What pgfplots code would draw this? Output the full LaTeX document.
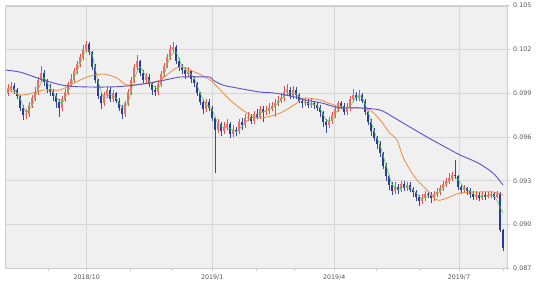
\documentclass[border=0pt]{standalone}
\usepackage{pgfplots}
\pgfplotsset{compat=1.18}
\usepackage{pgfplotstable}
\usepackage{fontspec}
\setmainfont{DejaVu Sans}
\definecolor{bgc}{HTML}{F0F0F0}
\definecolor{gridc}{HTML}{D6D6D6}
\definecolor{framec}{HTML}{CCCCCC}
\definecolor{labc}{HTML}{555555}
\definecolor{upbody}{HTML}{F06C6C}
\definecolor{upwick}{HTML}{E05050}
\definecolor{dnbody}{HTML}{2C3B93}
\definecolor{dnwick}{HTML}{3A4896}
\definecolor{mags}{HTML}{55CC55}
\definecolor{mamid}{HTML}{EE8A3C}
\definecolor{malong}{HTML}{5E50C6}

\pgfplotstableread{
x o h l c
8 0.09900 0.09960 0.09880 0.09930
11 0.09930 0.09980 0.09910 0.09950
14 0.09950 0.09970 0.09895 0.09920
17 0.09920 0.09935 0.09860 0.09880
20 0.09880 0.09890 0.09780 0.09800
23 0.09800 0.09820 0.09715 0.09750
26 0.09750 0.09790 0.09720 0.09760
29 0.09760 0.09840 0.09740 0.09820
32 0.09820 0.09890 0.09800 0.09870
35 0.09870 0.09940 0.09850 0.09910
38 0.09910 0.10010 0.09890 0.09990
41 0.09990 0.10090 0.09970 0.10040
44 0.10040 0.10060 0.09950 0.09980
47 0.09980 0.10000 0.09900 0.09930
50 0.09930 0.09960 0.09880 0.09910
53 0.09910 0.09930 0.09850 0.09880
56 0.09880 0.09900 0.09800 0.09840
59 0.09840 0.09860 0.09740 0.09800
62 0.09800 0.09880 0.09780 0.09860
65 0.09860 0.09930 0.09840 0.09910
68 0.09910 0.09980 0.09890 0.09960
71 0.09960 0.10030 0.09940 0.10000
74 0.10000 0.10070 0.09980 0.10050
77 0.10050 0.10120 0.10030 0.10100
80 0.10100 0.10170 0.10080 0.10150
83 0.10150 0.10230 0.10130 0.10200
86 0.10200 0.10260 0.10180 0.10240
89 0.10240 0.10250 0.10160 0.10180
92 0.10180 0.10190 0.10060 0.10080
95 0.10080 0.10100 0.09970 0.09990
98 0.09990 0.10000 0.09860 0.09880
101 0.09880 0.09900 0.09790 0.09830
104 0.09830 0.09910 0.09810 0.09890
107 0.09890 0.09950 0.09870 0.09920
110 0.09920 0.09940 0.09840 0.09860
113 0.09860 0.09920 0.09840 0.09900
116 0.09900 0.09910 0.09830 0.09850
119 0.09850 0.09870 0.09780 0.09800
122 0.09800 0.09820 0.09720 0.09760
125 0.09760 0.09850 0.09740 0.09830
128 0.09830 0.09930 0.09810 0.09910
131 0.09910 0.10010 0.09890 0.09990
134 0.09990 0.10100 0.09970 0.10080
137 0.10080 0.10160 0.10060 0.10120
140 0.10120 0.10130 0.10020 0.10040
143 0.10040 0.10060 0.09970 0.09990
146 0.09990 0.10040 0.09970 0.10010
149 0.10010 0.10030 0.09940 0.09960
152 0.09960 0.09980 0.09890 0.09920
155 0.09920 0.09950 0.09880 0.09910
158 0.09910 0.09980 0.09890 0.09960
161 0.09960 0.10050 0.09940 0.10030
164 0.10030 0.10110 0.10010 0.10090
167 0.10090 0.10170 0.10070 0.10150
170 0.10150 0.10230 0.10130 0.10200
173 0.10200 0.10250 0.10180 0.10220
176 0.10220 0.10230 0.10100 0.10120
179 0.10120 0.10140 0.10050 0.10080
182 0.10080 0.10100 0.10030 0.10060
185 0.10060 0.10080 0.10000 0.10030
188 0.10030 0.10080 0.10010 0.10050
191 0.10050 0.10060 0.09970 0.10000
194 0.10000 0.10020 0.09940 0.09970
197 0.09970 0.09980 0.09880 0.09900
200 0.09900 0.09910 0.09820 0.09840
203 0.09840 0.09860 0.09760 0.09790
206 0.09790 0.09860 0.09770 0.09840
209 0.09840 0.09860 0.09780 0.09800
212 0.09800 0.09810 0.09710 0.09730
215 0.09730 0.09740 0.09350 0.09650
218 0.09650 0.09720 0.09630 0.09690
221 0.09690 0.09700 0.09610 0.09640
224 0.09640 0.09700 0.09620 0.09670
227 0.09670 0.09720 0.09650 0.09690
230 0.09690 0.09700 0.09590 0.09620
233 0.09620 0.09680 0.09600 0.09650
236 0.09650 0.09670 0.09610 0.09640
239 0.09640 0.09720 0.09620 0.09700
242 0.09700 0.09730 0.09650 0.09680
245 0.09680 0.09760 0.09660 0.09730
248 0.09730 0.09770 0.09710 0.09740
251 0.09740 0.09760 0.09690 0.09710
254 0.09710 0.09780 0.09690 0.09760
257 0.09760 0.09790 0.09720 0.09740
260 0.09740 0.09810 0.09720 0.09790
263 0.09790 0.09810 0.09700 0.09770
266 0.09770 0.09810 0.09750 0.09780
269 0.09780 0.09830 0.09760 0.09800
272 0.09800 0.09840 0.09780 0.09810
275 0.09810 0.09860 0.09740 0.09830
278 0.09830 0.09880 0.09810 0.09850
281 0.09850 0.09900 0.09830 0.09870
284 0.09870 0.09950 0.09850 0.09910
287 0.09910 0.09960 0.09880 0.09920
290 0.09920 0.09940 0.09860 0.09880
293 0.09880 0.09950 0.09860 0.09920
296 0.09920 0.09940 0.09860 0.09890
299 0.09890 0.09900 0.09830 0.09850
302 0.09850 0.09870 0.09800 0.09830
305 0.09830 0.09870 0.09810 0.09840
308 0.09840 0.09860 0.09800 0.09820
311 0.09820 0.09860 0.09800 0.09830
314 0.09830 0.09850 0.09790 0.09820
317 0.09820 0.09840 0.09780 0.09800
320 0.09800 0.09820 0.09740 0.09770
323 0.09770 0.09780 0.09670 0.09700
326 0.09700 0.09720 0.09630 0.09680
329 0.09680 0.09740 0.09660 0.09710
332 0.09710 0.09770 0.09690 0.09750
335 0.09750 0.09810 0.09730 0.09790
338 0.09790 0.09850 0.09770 0.09830
341 0.09830 0.09850 0.09790 0.09810
344 0.09810 0.09830 0.09750 0.09770
347 0.09770 0.09830 0.09750 0.09800
350 0.09800 0.09880 0.09780 0.09860
353 0.09860 0.09930 0.09840 0.09890
356 0.09890 0.09910 0.09850 0.09870
359 0.09870 0.09920 0.09850 0.09890
362 0.09890 0.09900 0.09830 0.09850
365 0.09850 0.09860 0.09750 0.09770
368 0.09770 0.09780 0.09680 0.09700
371 0.09700 0.09720 0.09610 0.09640
374 0.09640 0.09660 0.09570 0.09590
377 0.09590 0.09610 0.09520 0.09550
380 0.09550 0.09570 0.09460 0.09490
383 0.09490 0.09500 0.09380 0.09400
386 0.09400 0.09420 0.09300 0.09330
389 0.09330 0.09340 0.09240 0.09270
392 0.09270 0.09290 0.09200 0.09230
395 0.09230 0.09290 0.09210 0.09260
398 0.09260 0.09280 0.09210 0.09240
401 0.09240 0.09300 0.09220 0.09280
404 0.09280 0.09300 0.09230 0.09250
407 0.09250 0.09290 0.09230 0.09270
410 0.09270 0.09290 0.09220 0.09240
413 0.09240 0.09260 0.09190 0.09220
416 0.09220 0.09240 0.09160 0.09190
419 0.09190 0.09200 0.09130 0.09160
422 0.09160 0.09210 0.09140 0.09180
425 0.09180 0.09230 0.09160 0.09210
428 0.09210 0.09230 0.09180 0.09200
431 0.09200 0.09220 0.09150 0.09180
434 0.09180 0.09230 0.09160 0.09210
437 0.09210 0.09250 0.09190 0.09220
440 0.09220 0.09270 0.09200 0.09250
443 0.09250 0.09300 0.09230 0.09280
446 0.09280 0.09320 0.09260 0.09300
449 0.09300 0.09350 0.09280 0.09320
452 0.09320 0.09360 0.09300 0.09340
455 0.09340 0.09440 0.09310 0.09330
458 0.09330 0.09340 0.09240 0.09260
461 0.09260 0.09270 0.09210 0.09240
464 0.09240 0.09270 0.09220 0.09250
467 0.09250 0.09260 0.09200 0.09230
470 0.09230 0.09250 0.09180 0.09210
473 0.09210 0.09230 0.09170 0.09190
476 0.09190 0.09230 0.09170 0.09200
479 0.09200 0.09220 0.09160 0.09180
482 0.09180 0.09220 0.09170 0.09200
485 0.09200 0.09220 0.09170 0.09190
488 0.09190 0.09220 0.09180 0.09200
491 0.09200 0.09230 0.09180 0.09210
494 0.09210 0.09220 0.09170 0.09190
497 0.09190 0.09230 0.09180 0.09210
500 0.09210 0.09220 0.08950 0.08960
503 0.08960 0.08970 0.08820 0.08840
}\candles

\pgfplotstableread{
x v
14 0.09933
20 0.09867
26 0.09770
32 0.09817
38 0.09923
44 0.10003
50 0.09940
56 0.09877
62 0.09833
68 0.09910
74 0.10003
80 0.10100
86 0.10197
92 0.10167
98 0.09983
104 0.09867
110 0.09890
116 0.09870
122 0.09803
128 0.09833
134 0.09993
140 0.10080
146 0.10013
152 0.09963
158 0.09930
164 0.10027
170 0.10147
176 0.10180
182 0.10087
188 0.10047
194 0.10007
200 0.09903
206 0.09823
212 0.09790
218 0.09690
224 0.09667
230 0.09660
236 0.09637
242 0.09673
248 0.09717
254 0.09737
260 0.09763
266 0.09780
272 0.09797
278 0.09830
284 0.09877
290 0.09903
296 0.09897
302 0.09857
308 0.09830
314 0.09823
320 0.09797
326 0.09717
332 0.09713
338 0.09790
344 0.09803
350 0.09810
356 0.09873
362 0.09870
368 0.09773
374 0.09643
380 0.09543
386 0.09407
392 0.09277
398 0.09243
404 0.09257
410 0.09253
416 0.09217
422 0.09177
428 0.09197
434 0.09197
440 0.09227
446 0.09277
452 0.09320
458 0.09310
464 0.09250
470 0.09230
476 0.09200
482 0.09193
488 0.09197
494 0.09200
500 0.09120
503 0.09080
}\mashort

\pgfplotstableread{
x v
7 0.09936
20 0.09888
33 0.09902
43 0.09922
60 0.09922
70 0.09956
87 0.10011
103 0.10032
117 0.10004
127 0.09956
147 0.09970
160 0.09991
173 0.10059
180 0.10080
190 0.10059
210 0.09991
230 0.09854
247 0.09764
260 0.09730
280 0.09764
297 0.09833
303 0.09867
320 0.09854
340 0.09806
360 0.09799
370 0.09785
380 0.09717
390 0.09625
397 0.09580
403 0.09463
410 0.09374
417 0.09305
427 0.09237
437 0.09168
447 0.09182
460 0.09216
477 0.09223
493 0.09223
503 0.09203
}\mamid

\pgfplotstableread{
x v
5.7 0.10059
20 0.10045
33 0.10015
50 0.09977
67 0.09950
87 0.09943
110 0.09943
127 0.09950
150 0.09970
170 0.09998
180 0.10011
195 0.10012
210 0.10011
213 0.09990
223 0.09956
237 0.09936
260 0.09908
275 0.09901
295 0.09874
305 0.09854
322 0.09833
335 0.09806
345 0.09799
360 0.09799
380 0.09785
393 0.09737
410 0.09668
427 0.09600
445 0.09532
460 0.09477
478 0.09422
493 0.09353
503 0.09271
}\malong

\begin{document}
\begin{tikzpicture}
\useasboundingbox (-5.7pt,-18.7pt) rectangle (534.3pt,268.3pt);
\begin{axis}[
  at={(0pt,0pt)}, anchor=south west,
  scale only axis, width=501pt, height=262.6pt,
  xmin=5.7, xmax=506.7, ymin=0.087, ymax=0.105,
  axis background/.style={fill=bgc},
  axis line style={draw=framec},
  ytick={0.087,0.090,0.093,0.096,0.099,0.102,0.105},
  yticklabels={0.087,0.090,0.093,0.096,0.099,0.102,0.105},
  yticklabel pos=right, ytick pos=right,
  xtick={86.7,212.3,334.3,459},
  xticklabels={2018/10,2019/1,2019/4,2019/7},
  minor xtick={48,130,171.7,256,294,376.7,420,503},
  xtick pos=bottom,
  tick align=outside,
  major tick length=3pt, minor tick length=2.5pt,
  tick style={draw=framec, line width=0.6pt},
  grid=major, major grid style={draw=gridc, line width=0.8pt},
  ticklabel style={font=\fontsize{6.3}{7}\selectfont, text=labc},
  clip=true,
  candle/.style={draw=none, mark=none, forget plot,
    error bars/y dir=plus, error bars/y explicit, error bars/error mark=none},
]
% wicks
\addplot[candle, error bars/error bar style={line width=0.7pt, draw=upwick}]
  table[x=x, y expr={\thisrow{c}>\thisrow{o} ? \thisrow{l} : nan}, y error expr={\thisrow{h}-\thisrow{l}}] {\candles};
\addplot[candle, error bars/error bar style={line width=0.7pt, draw=dnwick}]
  table[x=x, y expr={\thisrow{c}>\thisrow{o} ? nan : \thisrow{l}}, y error expr={\thisrow{h}-\thisrow{l}}] {\candles};
% bodies
\addplot[candle, error bars/error bar style={line width=2.4pt, draw=upbody}]
  table[x=x, y expr={\thisrow{c}>\thisrow{o} ? \thisrow{o} : nan}, y error expr={\thisrow{c}-\thisrow{o}}] {\candles};
\addplot[candle, error bars/error bar style={line width=2.4pt, draw=dnbody}]
  table[x=x, y expr={\thisrow{c}>\thisrow{o} ? nan : \thisrow{c}}, y error expr={\thisrow{o}-\thisrow{c}}] {\candles};
% moving averages
\addplot[mags, line width=0.6pt, smooth, tension=0.4, mark=none] table[x=x,y=v] {\mashort};
\addplot[mamid, line width=0.8pt, smooth, tension=0.5, mark=none] table[x=x,y=v] {\mamid};
\addplot[malong, line width=0.9pt, smooth, tension=0.5, mark=none] table[x=x,y=v] {\malong};
\end{axis}
\end{tikzpicture}
\end{document}
